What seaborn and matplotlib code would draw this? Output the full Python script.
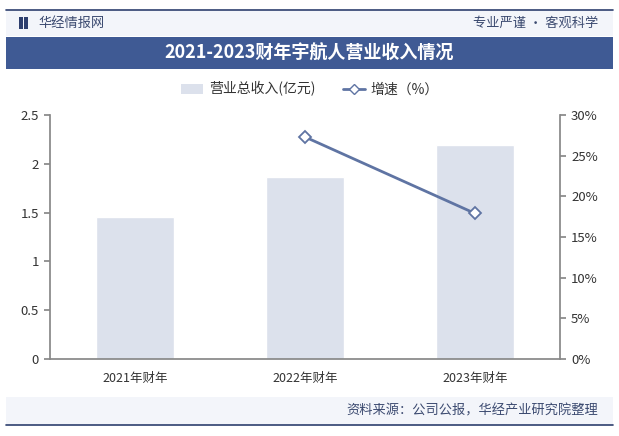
import numpy as np
import pandas as pd
import matplotlib
matplotlib.use('Agg')
import matplotlib.pyplot as plt
import seaborn as sns
from matplotlib.lines import Line2D
from matplotlib.patches import Patch, Rectangle

# data
years = ['2021年财年', '2022年财年', '2023年财年']
revenue = [1.46, 1.86, 2.19]          # 营业总收入(亿元)
growth = [np.nan, 27.3, 17.9]         # 增速(%)
left_ticks = [0, 0.5, 1, 1.5, 2, 2.5]
left_labels = ['0', '0.5', '1', '1.5', '2', '2.5']
right_ticks = [0, 5, 10, 15, 20, 25, 30]
right_labels = ['0%', '5%', '10%', '15%', '20%', '25%', '30%']

sns.set_theme(style='white')
plt.rcParams['font.family'] = ['Noto Sans CJK SC', 'DejaVu Sans']

W, H = 619, 436
fig = plt.figure(figsize=(W / 100, H / 100), dpi=100)
fig.patch.set_facecolor('white')

def px(x, y):
    return x / W, 1 - y / H

navy = '#3F5A94'
bar_color = '#DCE1EC'
line_color = '#5F74A3'

# header strip
fig.patches.append(Rectangle(px(6, 36), (W - 12) / W, 26 / H, transform=fig.transFigure,
                             facecolor='#F3F5FA', edgecolor='none', zorder=0))
fig.add_artist(Line2D([6 / W, (W - 6) / W], [1 - 10 / H] * 2, color='#2E3F6E', lw=1.2))
fig.patches.append(Rectangle(px(19, 29), 4 / W, 12 / H, transform=fig.transFigure,
                             facecolor='#2E3F6E', edgecolor='none'))
fig.patches.append(Rectangle(px(24, 29), 4 / W, 12 / H, transform=fig.transFigure,
                             facecolor='#2E3F6E', edgecolor='none'))
fig.text(*px(38, 23), '华经情报网', fontsize=9.5, color='#3B4A70', va='center', ha='left')
fig.text(*px(598, 23), '专业严谨 • 客观科学', fontsize=9.5, color='#3B4A70', va='center', ha='right')

# title bar
fig.patches.append(Rectangle(px(6, 69), (W - 12) / W, 32 / H, transform=fig.transFigure,
                             facecolor=navy, edgecolor='none'))
fig.text(*px(W / 2, 53), '2021-2023财年宇航人营业收入情况', fontsize=13, color='white',
         fontweight='bold', va='center', ha='center')

# footer
fig.patches.append(Rectangle(px(6, 425), (W - 12) / W, 28 / H, transform=fig.transFigure,
                             facecolor='#F3F5FA', edgecolor='none', zorder=0))
fig.add_artist(Line2D([6 / W, (W - 6) / W], [1 - 425 / H] * 2, color='#2E3F6E', lw=1.2))
fig.text(*px(598, 411), '资料来源：公司公报，华经产业研究院整理', fontsize=9.5, color='#3B4A70',
         va='center', ha='right')

# main axes
x0, x1, ytop, ybot = 50, 560, 115, 359
ax = fig.add_axes([x0 / W, 1 - ybot / H, (x1 - x0) / W, (ybot - ytop) / H])
ax.set_facecolor('none')

df = pd.DataFrame({'year': years, 'revenue': revenue, 'growth': growth})
sns.barplot(data=df, x='year', y='revenue', color=bar_color, width=0.46,
            saturation=1, ax=ax, zorder=2)
ax.set_ylim(0, 2.5)
ax.set_xlim(-0.5, 2.5)
ax.set_yticks(left_ticks)
ax.set_yticklabels(left_labels)
ax.set_xlabel('')
ax.set_ylabel('')
for s in ['top', 'right']:
    ax.spines[s].set_visible(False)
ax.spines['left'].set_color('#888888')
ax.spines['bottom'].set_color('#888888')
ax.tick_params(axis='y', length=4, color='#888888', labelsize=9.5, labelcolor='#333333', pad=4, left=True)
ax.tick_params(axis='x', length=0, labelsize=9, labelcolor='#333333', pad=9)

ax2 = ax.twinx()
ax2.plot(range(len(years)), growth, color=line_color, lw=2, marker='D', markersize=6,
         markerfacecolor='white', markeredgecolor=line_color, markeredgewidth=1.3, zorder=3)
ax2.set_ylim(0, 30)
ax2.set_yticks(right_ticks)
ax2.set_yticklabels(right_labels)
for s in ['top', 'left', 'bottom']:
    ax2.spines[s].set_visible(False)
ax2.spines['right'].set_color('#888888')
ax2.tick_params(axis='y', length=4, color='#888888', labelsize=9.5, labelcolor='#333333', pad=4, right=True)
ax2.grid(False)

# legend
handles = [Patch(facecolor=bar_color, edgecolor='none'),
           Line2D([0], [0], color=line_color, lw=2, marker='D', markersize=5,
                  markerfacecolor='white', markeredgecolor=line_color)]
fig.legend(handles, ['营业总收入(亿元)', '增速（%）'], loc='center', bbox_to_anchor=px(310, 89),
           ncol=2, frameon=False, fontsize=10, handlelength=1.6, handletextpad=0.4,
           columnspacing=2.0, labelcolor='#333333')

fig.savefig('out.png', dpi=100)
